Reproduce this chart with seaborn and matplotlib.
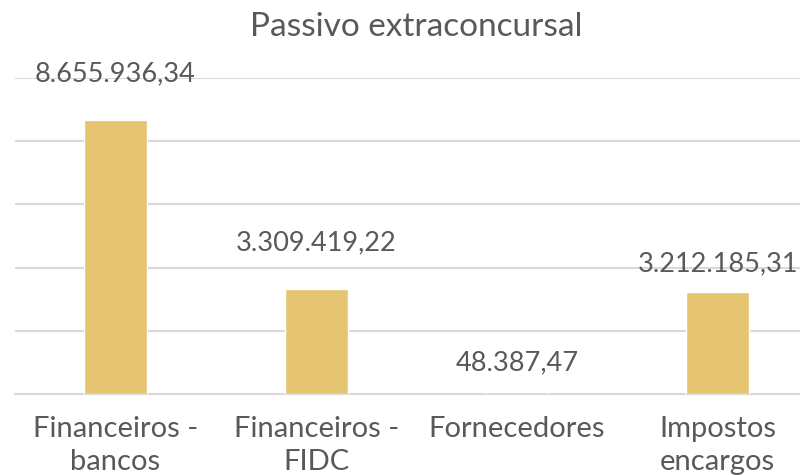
import matplotlib
matplotlib.use("Agg")
import matplotlib.pyplot as plt
import seaborn as sns
import pandas as pd

categorias = ["Financeiros -\nbancos", "Financeiros -\nFIDC", "Fornecedores", "Impostos\nencargos"]
valores = [8655936.34, 3309419.22, 48387.47, 3212185.31]
rotulos = ["8.655.936,34", "3.309.419,22", "48.387,47", "3.212.185,31"]
deslocamentos = [47, 47, 30, 29]  # label offset above bar, pixels

df = pd.DataFrame({"categoria": categorias, "valor": valores})

sns.set_style("white")
plt.rcParams["font.family"] = ["Lato", "DejaVu Sans"]
cor_texto = "#595959"

fig = plt.figure(figsize=(8, 4.75), dpi=100)
ax = fig.add_axes([15 / 800, 1 - 394 / 475, 803 / 800, 316 / 475])

sns.barplot(data=df, x="categoria", y="valor", color="#E6C572", saturation=1,
            width=0.315, ax=ax, zorder=3)

ax.set_ylim(0, 10e6)
ax.set_yticks(range(0, 10000001, 2000000))
ax.yaxis.grid(True, color="#D9D9D9", linewidth=1.5, zorder=0)
ax.set_yticklabels([])
ax.tick_params(axis="y", length=0)
ax.tick_params(axis="x", length=0, pad=16, labelsize=21, labelcolor=cor_texto)
for lbl in ax.get_xticklabels():
    lbl.set_linespacing(1.3)
for s in ["left", "right", "top"]:
    ax.spines[s].set_visible(False)
ax.spines["bottom"].set_color("#D9D9D9")
ax.spines["bottom"].set_linewidth(1.5)
ax.set_xlabel("")
ax.set_ylabel("")

for i, (v, t, d) in enumerate(zip(valores, rotulos, deslocamentos)):
    ax.annotate(t, (i, v), xytext=(0, d), textcoords="offset pixels",
                ha="center", va="center", fontsize=19.5, color=cor_texto,
                zorder=4)

ax.set_title("Passivo extraconcursal", fontsize=24, color=cor_texto, pad=30)

fig.savefig("out.png", dpi=100)
